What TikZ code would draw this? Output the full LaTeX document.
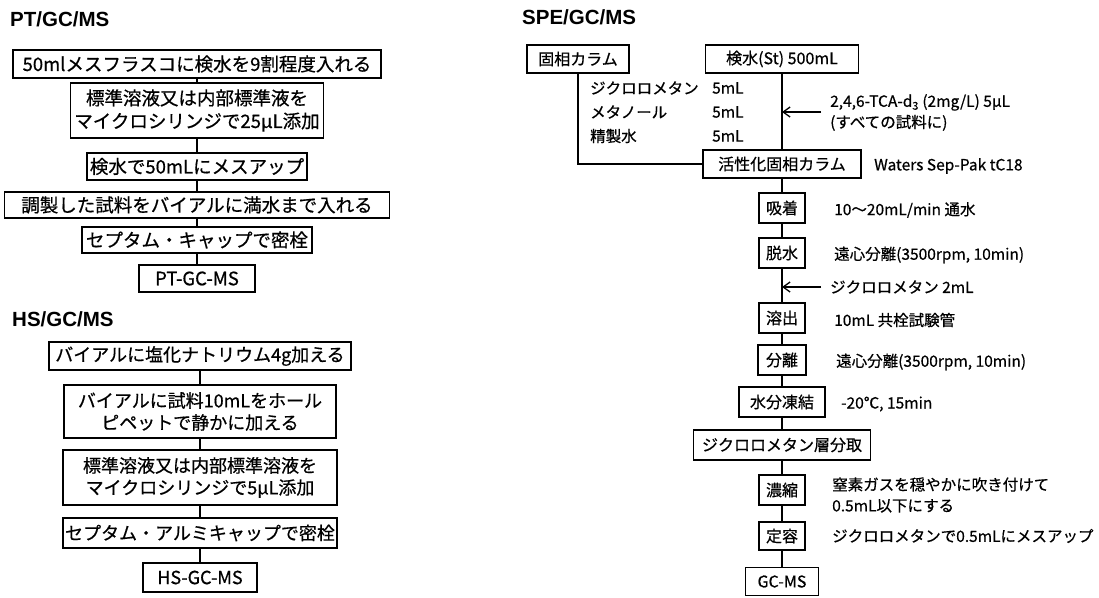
\documentclass[tikz,border=0pt]{standalone}
\usepackage{fontspec}
\setmainfont{Noto Sans CJK JP}[FakeBold=0.6]
\newfontfamily\titlefont{Liberation Sans}
\usetikzlibrary{arrows.meta}
\begin{document}
\begin{tikzpicture}[x=1pt,y=-1pt,
  box/.style={draw, line width=1.8pt, inner sep=0pt, align=center},
  ptf/.style={font=\fontsize{18.5}{23}\selectfont},
  hsf/.style={font=\fontsize{18}{22}\selectfont},
  spf/.style={font=\fontsize{16}{20}\selectfont, minimum height=30pt},
  lab/.style={anchor=west, inner sep=0pt, font=\fontsize{15.5}{21}\selectfont, align=left},
  ttl/.style={anchor=west, inner sep=0pt, font=\titlefont\bfseries\fontsize{20.5}{24}\selectfont},
  link/.style={line width=1.3pt},
  arr/.style={line width=1.3pt, -{Straight Barb[length=7pt,width=10pt]}},
]
\useasboundingbox (0,0) rectangle (1099,597);

% ---------- PT/GC/MS ----------
\node[ttl] (tpt) at (10,19) {PT/GC/MS};
\node[box,ptf,minimum width=368pt,minimum height=28pt] (p1) at (197,64) {50mlメスフラスコに検水を9割程度入れる};
\node[box,ptf,minimum width=253pt,minimum height=55pt] (p2) at (197,110.5) {標準溶液又は内部標準液を\\マイクロシリンジで25µL添加};
\node[box,ptf,minimum width=220pt,minimum height=27pt] (p3) at (197,166.5) {検水で50mLにメスアップ};
\node[box,ptf,minimum width=385pt,minimum height=26pt] (p4) at (197,205) {調製した試料をバイアルに満水まで入れる};
\node[box,ptf,minimum width=230pt,minimum height=26pt] (p5) at (197,240) {セプタム・キャップで密栓};
\node[box,ptf,minimum width=116pt,minimum height=27pt] (p6) at (197,278.5) {PT-GC-MS};
\draw[link] (p1) -- (p2);
\draw[link] (p2) -- (p3);
\draw[link] (p3) -- (p4);
\draw[link] (p4) -- (p5);
\draw[link] (p5) -- (p6);

% ---------- HS/GC/MS ----------
\node[ttl] (ths) at (12,319) {HS/GC/MS};
\node[box,hsf,minimum width=302pt,minimum height=28pt] (h1) at (200,356) {バイアルに塩化ナトリウム4g加える};
\node[box,hsf,minimum width=272pt,minimum height=53pt] (h2) at (200,411.5) {バイアルに試料10mLをホール\\ピペットで静かに加える};
\node[box,hsf,minimum width=274pt,minimum height=55pt] (h3) at (200,477.5) {標準溶液又は内部標準溶液を\\マイクロシリンジで5µL添加};
\node[box,hsf,minimum width=274pt,minimum height=30pt] (h4) at (200,533) {セプタム・アルミキャップで密栓};
\node[box,hsf,minimum width=114pt,minimum height=29pt] (h5) at (200,577.5) {HS-GC-MS};
\draw[link] (h1) -- (h2);
\draw[link] (h2) -- (h3);
\draw[link] (h3) -- (h4);
\draw[link] (h4) -- (h5);

% ---------- SPE/GC/MS ----------
\node[ttl] (tspe) at (522,17) {SPE/GC/MS};
\node[box,spf,minimum width=102pt,minimum height=28pt] (koso) at (578,59) {固相カラム};
\node[box,spf,minimum width=153pt,minimum height=28pt] (kensui) at (782,59) {検水(St) 500mL};
\node[box,spf,minimum width=158pt,minimum height=28pt] (kassei) at (782,164) {活性化固相カラム};
\node[box,spf,minimum width=46pt] (kyu) at (782,208) {吸着};
\node[box,spf,minimum width=46pt] (dassui) at (782,253) {脱水};
\node[box,spf,minimum width=46pt] (yoshutsu) at (782,318) {溶出};
\node[box,spf,minimum width=48pt] (bunri) at (782,360) {分離};
\node[box,spf,minimum width=86pt] (suibun) at (782,402) {水分凍結};
\node[box,spf,minimum width=177pt] (sobun) at (782,445) {ジクロロメタン層分取};
\node[box,spf,minimum width=46pt] (noshuku) at (782,490) {濃縮};
\node[box,spf,minimum width=46pt,minimum height=28pt] (teiyou) at (782,536) {定容};
\node[box,spf,minimum width=73pt,minimum height=28pt] (gcms) at (782,581.5) {GC-MS};

\draw[link] (kensui) -- (kassei);
\draw[link] (koso.south) |- (kassei.west);
\draw[link] (kassei) -- (kyu);
\draw[link] (kyu) -- (dassui);
\draw[link] (dassui) -- (yoshutsu);
\draw[link] (yoshutsu) -- (bunri);
\draw[link] (bunri) -- (suibun);
\draw[link] (suibun) -- (sobun);
\draw[link] (sobun) -- (noshuku);
\draw[link] (noshuku) -- (teiyou);
\draw[link] (teiyou) -- (gcms);

% reagents
\node[lab] (r1) at (590,88) {ジクロロメタン};
\node[lab] (r2) at (590,112) {メタノール};
\node[lab] (r3) at (590,136) {精製水};
\node[lab] (v1) at (712,88) {5mL};
\node[lab] (v2) at (712,112) {5mL};
\node[lab] (v3) at (712,136) {5mL};

% arrows
\coordinate (t1) at (821,112);
\draw[arr] (t1) -- (t1 -| kensui.south);
\coordinate (t2) at (821,287);
\draw[arr] (t2) -- (t2 -| dassui.south);

% labels
\node[lab] (l0) at (830,112.5) {2,4,6-TCA-d\textsubscript{3} (2mg/L) 5µL\\(すべての試料に)};
\node[lab] (lw) at (874,166) {Waters Sep-Pak tC18};
\node[lab] (l1) at (834,210) {10～20mL/min 通水};
\node[lab] (l2) at (834,255) {遠心分離(3500rpm, 10min)};
\node[lab] (l3) at (830,287) {ジクロロメタン 2mL};
\node[lab] (l4) at (834,320) {10mL 共栓試験管};
\node[lab] (l5) at (836,362) {遠心分離(3500rpm, 10min)};
\node[lab] (l6) at (841,404) {-20℃, 15min};
\node[lab] (l7) at (832,495) {窒素ガスを穏やかに吹き付けて\\0.5mL以下にする};
\node[lab] (l8) at (832,536) {ジクロロメタンで0.5mLにメスアップ};
\end{tikzpicture}
\end{document}
